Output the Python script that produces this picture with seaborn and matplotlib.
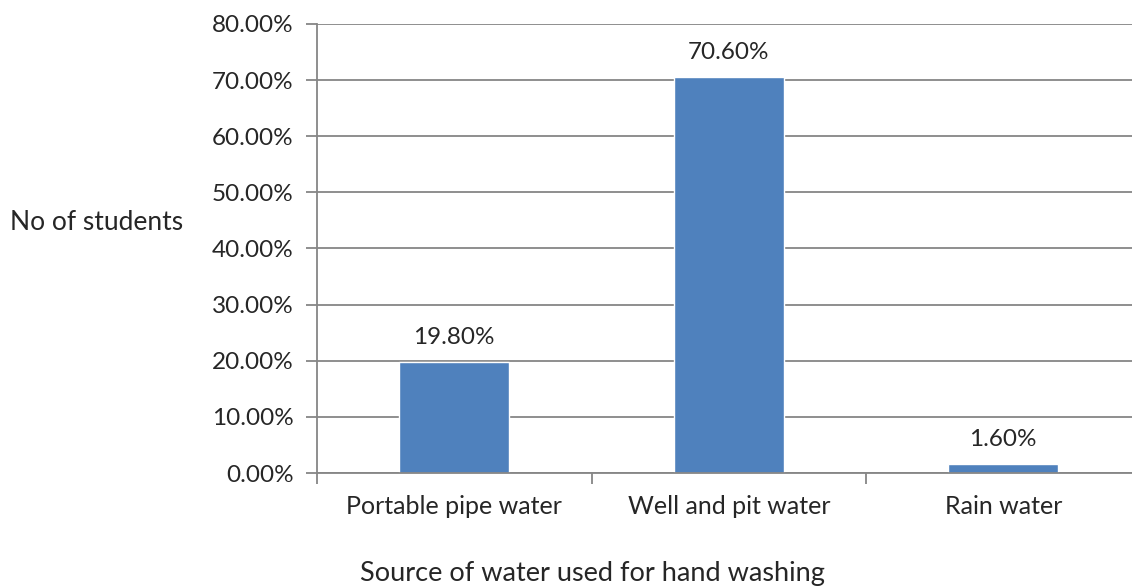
import numpy as np
import pandas as pd
import seaborn as sns
import matplotlib.pyplot as plt
from matplotlib.ticker import FuncFormatter, FixedLocator

# data
sources = ["Portable pipe water", "Well and pit water", "Rain water"]
percent = [19.8, 70.6, 1.6]
y_ticks = [0, 10, 20, 30, 40, 50, 60, 70, 80]

BAR_COLOR = "#4F81BD"
GRID_COLOR = "#868686"

sns.set_style("white")
plt.rcParams['font.family'] = ['Lato', 'DejaVu Sans']

df = pd.DataFrame({"source": sources, "percent": percent})

fig = plt.figure(figsize=(11.32, 5.87), dpi=100)
ax = fig.add_axes([317 / 1132, 114 / 587, 815 / 1132, 449 / 587])

sns.barplot(data=df, x="source", y="percent", color=BAR_COLOR, width=0.4,
            saturation=1, ax=ax)

ax.set_ylim(0, 80)
ax.set_xlim(-0.5, -0.5 + 815 / 274.5)
ax.set_yticks(y_ticks)
ax.yaxis.set_major_formatter(FuncFormatter(lambda v, p: f"{v:.2f}%"))
ax.yaxis.grid(True, color=GRID_COLOR, linewidth=1.3)
ax.set_axisbelow(True)

for side in ["top", "right"]:
    ax.spines[side].set_visible(False)
for side in ["left", "bottom"]:
    ax.spines[side].set_color(GRID_COLOR)
    ax.spines[side].set_linewidth(1.3)

# tick marks sit between categories on x, outward on y
ax.tick_params(axis="y", which="major", direction="out", length=8, width=1.3,
               color=GRID_COLOR, labelsize=17.5, pad=9, left=True)
ax.tick_params(axis="x", which="major", length=0, labelsize=18, pad=16, bottom=True)
ax.xaxis.set_minor_locator(FixedLocator([-0.5, 0.5, 1.5, 2.5]))
ax.tick_params(axis="x", which="minor", direction="out", length=8, width=1.3,
               color=GRID_COLOR, bottom=True)

for i, v in enumerate(percent):
    ax.annotate(f"{v:.2f}%", (i, v), xytext=(0, 10), textcoords="offset points",
                ha="center", va="bottom", fontsize=17.5)

ax.set_xlabel("Source of water used for hand washing", fontsize=19.5)
ax.xaxis.set_label_coords((592 - 317) / 815, -0.195)
ax.set_ylabel("No of students", fontsize=19, rotation=0, ha="left", va="center")
ax.yaxis.set_label_coords((10 - 317) / 815, (473 - 222) / 449)

fig.savefig("out.png", dpi=100)
